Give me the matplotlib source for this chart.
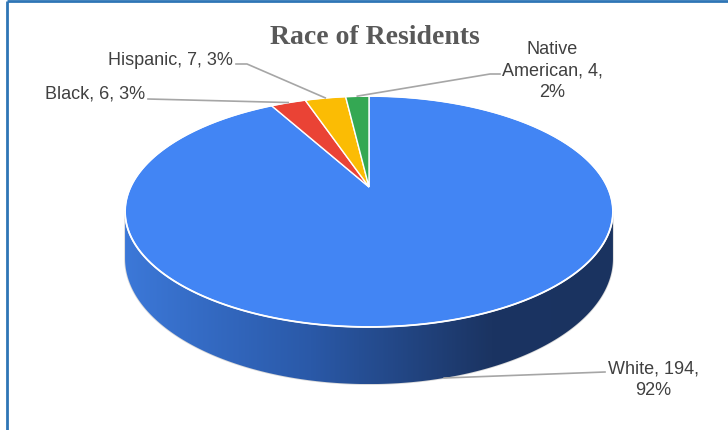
import textwrap
import numpy as np
import matplotlib
matplotlib.use("Agg")
import matplotlib.pyplot as plt
from matplotlib.patches import Polygon
from matplotlib.colors import LinearSegmentedColormap

# ---- data ----
categories = ['White', 'Black', 'Hispanic', 'Native American']
values = [194, 6, 7, 4]
colors = ['#4285F4', '#EA4335', '#FBBC04', '#34A853']
title = 'Race of Residents'

total = sum(values)
pcts = [round(100 * v / total) for v in values]
wrap_widths = [12, 40, 40, 12]
labels = [textwrap.fill(f"{c}, {v}, {p}%", w)
          for c, v, p, w in zip(categories, values, pcts, wrap_widths)]

# ---- figure in pixel coordinates ----
fig = plt.figure(figsize=(7.28, 4.31), dpi=100)
ax = fig.add_axes([0, 0, 1, 1])
ax.set_xlim(0, 728)
ax.set_ylim(431, 0)
ax.axis('off')

# perspective pie geometry
CX, CY, A, B, K, H = 369, 188, 238.4, 110.3, 0.212, 45


def proj(theta, z=0.0):
    t = np.radians(np.asarray(theta, dtype=float))
    u, v = np.sin(t), np.cos(t)
    w = 1 + K * v
    return CX + A * u / w, CY - B * v / w + z * H / w


# ---- front side with gradient ----
ts = np.degrees(np.arccos(-K))
th = np.linspace(ts, 360 - ts, 300)
xt, yt = proj(th, 0)
xb, yb = proj(th[::-1], 1)
side_pts = np.column_stack([np.concatenate([xt, xb]), np.concatenate([yt, yb])])
side = Polygon(side_pts, closed=True, facecolor='none', edgecolor='#d9d9d9', lw=1.2, zorder=2)
ax.add_patch(side)
xmin, xmax = side_pts[:, 0].min(), side_pts[:, 0].max()
ymin, ymax = side_pts[:, 1].min(), side_pts[:, 1].max()
cmap = LinearSegmentedColormap.from_list(
    'side', [(0.0, '#3c78d8'), (0.38, '#2a59a8'), (0.75, '#1b3462'), (1.0, '#1a3360')])
grad = np.linspace(0, 1, 256)[None, :]
im = ax.imshow(grad, cmap=cmap, extent=(xmin, xmax, ymax, ymin), aspect='auto',
               interpolation='bilinear', zorder=2)
clip = Polygon(side_pts, closed=True, transform=ax.transData)
im.set_clip_path(clip)

# ---- top wedges ----
start = 0.0
mids = []
for val, col in zip(values, colors):
    ang = 360.0 * val / total
    arc = np.linspace(start, start + ang, max(int(ang * 2), 4))
    ax_, ay_ = proj(arc, 0)
    pts = np.column_stack([np.concatenate([[CX], ax_]), np.concatenate([[CY], ay_])])
    ax.add_patch(Polygon(pts, closed=True, facecolor=col, edgecolor='white', lw=1.0, zorder=3))
    mids.append(start + ang / 2)
    start += ang

ex, ey = proj(np.linspace(0, 360, 400), 0)
ax.plot(ex, ey, color='white', lw=1.3, zorder=4)

# ---- title ----
ax.text(375, 44, title, ha='center', va='baseline', fontsize=20, fontweight='bold',
        family='Liberation Serif', color='#595959', zorder=5)

# ---- labels and leader lines ----
tc = '#404040'
lc = '#a6a6a6'
fs = 13
font = 'Liberation Sans'

# White (leader to bottom front edge)
wx, wy = proj(mids[0], 1)
ax.plot([605, wx], [373, wy], color=lc, lw=1.2, zorder=5)
ax.text(653, 395, labels[0], ha='center', va='baseline', multialignment='center',
        fontsize=fs, family=font, color=tc, linespacing=1.35, zorder=5)

# Black
bx, by = proj(mids[1], 0)
ax.plot([148, bx], [100, by], color=lc, lw=1.2, zorder=5)
ax.text(45, 99, labels[1], ha='left', va='baseline', fontsize=fs, family=font,
        color=tc, zorder=5)

# Hispanic
hx, hy = proj(mids[2], 0)
ax.plot([236, 247, hx], [65, 65, hy], color=lc, lw=1.2, zorder=5)
ax.text(233, 65, labels[2], ha='right', va='baseline', fontsize=fs, family=font,
        color=tc, zorder=5)

# Native American
nx, ny = proj(mids[3], 0)
ax.plot([500, 490, nx], [75, 75, ny], color=lc, lw=1.2, zorder=5)
ax.text(552, 97, labels[3], ha='center', va='baseline', multialignment='center',
        fontsize=fs, family=font, color=tc, linespacing=1.35, zorder=5)

# ---- frame ----
ax.plot([6.5, 6.5], [431, 1.5], color='#2e75b6', lw=2, zorder=6, solid_capstyle='butt')
ax.plot([6.5, 728], [1.5, 1.5], color='#2e75b6', lw=2, zorder=6, solid_capstyle='butt')

fig.savefig('out.png', dpi=100)
